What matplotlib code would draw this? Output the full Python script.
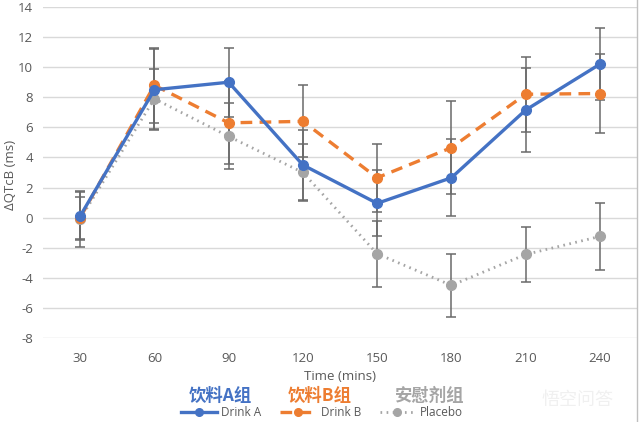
import matplotlib.pyplot as plt
from matplotlib.lines import Line2D

plt.rcParams['font.family'] = ['Open Sans', 'Noto Sans CJK SC', 'DejaVu Sans']
plt.rcParams['axes.unicode_minus'] = False

# datos
tiempos = ['30', '60', '90', '120', '150', '180', '210', '240']
drink_a = [0.1, 8.5, 9.0, 3.5, 0.95, 2.65, 7.15, 10.2]
drink_b = [0.0, 8.8, 6.3, 6.4, 2.65, 4.65, 8.2, 8.25]
placebo = [-0.1, 7.9, 5.4, 3.0, -2.4, -4.5, -2.45, -1.25]
err_a = [1.6, 2.7, 2.3, 2.3, 2.2, 2.55, 2.8, 2.4]
err_b = [1.4, 2.5, 2.75, 2.4, 2.25, 3.1, 2.5, 2.6]
err_p = [1.85, 2.0, 2.2, 1.9, 2.2, 2.1, 1.8, 2.2]

azul = '#4472C4'
naranja = '#ED7D31'
gris = '#A5A5A5'
texto = '#595959'

fig = plt.figure(figsize=(6.4, 4.22), dpi=100)
ax = fig.add_axes([43 / 640, (422 - 338) / 422, 594 / 640, 331 / 422])

x = list(range(len(tiempos)))
series = [
    (drink_a, err_a, azul, '-', 2.4, 'Drink A'),
    (drink_b, err_b, naranja, (0, (3.5, 2.2)), 2.4, 'Drink B'),
    (placebo, err_p, gris, (0, (0.6, 1.6)), 2.0, 'Placebo'),
]
handles = []
for vals, errs, col, ls, lw, nombre in series:
    ax.errorbar(x, vals, yerr=errs, fmt='none', ecolor='#6A6A6A',
                elinewidth=1.1, capsize=3.5, capthick=1.1, zorder=2)
for vals, errs, col, ls, lw, nombre in series[::-1]:
    ax.plot(x, vals, color=col, linestyle=ls, linewidth=lw, marker='o',
            markersize=7, zorder=3)
for vals, errs, col, ls, lw, nombre in series:
    handles.append(Line2D([], [], color=col, linestyle=ls, linewidth=lw,
                          marker='o', markersize=5.5, label=nombre))

ax.set_xlim(-0.5, len(tiempos) - 0.5)
ax.set_ylim(-8, 14)
ax.set_yticks(range(-8, 15, 2))
ax.set_xticks(x)
ax.set_xticklabels(tiempos)
ax.grid(axis='y', color='#D9D9D9', linewidth=1)
ax.set_axisbelow(True)
for s in ax.spines.values():
    s.set_visible(False)
ax.tick_params(length=0, colors=texto, labelsize=9.5)
ax.tick_params(axis='x', pad=10)
ax.tick_params(axis='y', pad=7)
ax.set_ylabel('ΔQTcB (ms)', color=texto, fontsize=9.5)
ax.yaxis.set_label_coords(-26 / 594, 1 - (175 - 7) / 331)

fig.text(340 / 640, 1 - 377 / 422, 'Time (mins)', color=texto, fontsize=9.5,
         ha='center', va='center')
fig.text(220 / 640, 1 - 396 / 422, '饮料A组', color=azul, fontsize=12.5,
         fontweight='bold', ha='center', va='center', family='Noto Sans CJK SC')
fig.text(320 / 640, 1 - 396 / 422, '饮料B组', color=naranja, fontsize=12.5,
         fontweight='bold', ha='center', va='center', family='Noto Sans CJK SC')
fig.text(430 / 640, 1 - 396 / 422, '安慰剂组', color=gris, fontsize=12.5,
         fontweight='bold', ha='center', va='center', family='Noto Sans CJK SC')

fig.legend(handles=handles, loc='center', bbox_to_anchor=(322 / 640, 1 - 413 / 422),
           ncol=3, frameon=False, fontsize=8.5, labelcolor=texto,
           handlelength=3.0, handletextpad=0.4, columnspacing=1.6)

# marca de agua
fig.text(578 / 640, 1 - 400 / 422, '悟空问答', color='#F0F0F0', fontsize=13,
         ha='center', va='center', family='Noto Sans CJK SC')
fig.add_artist(Line2D([637 / 640, 637 / 640], [0, 1], color='#BFBFBF',
                      linewidth=1, transform=fig.transFigure))

plt.savefig('out.png')
